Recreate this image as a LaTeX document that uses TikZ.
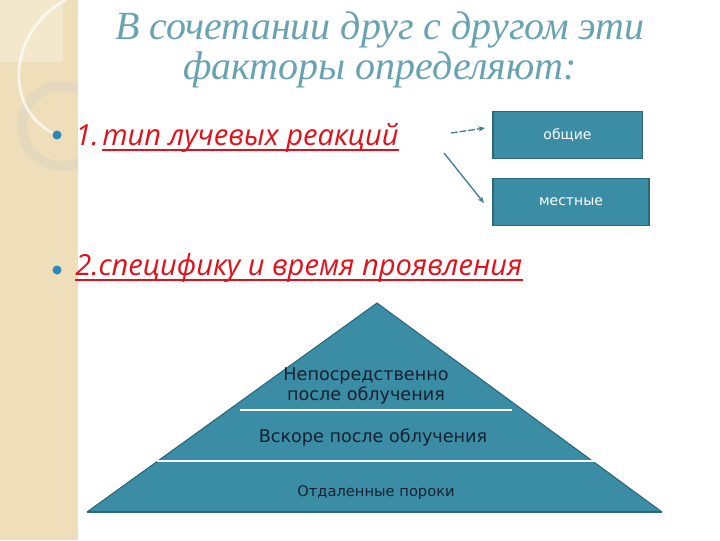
\documentclass[tikz,border=0pt]{standalone}
\usepackage{fontspec}
\setmainfont{Liberation Serif}
\newfontfamily\itemfont{Open Sans}
\newfontfamily\boxfont{DejaVu Sans}
\usetikzlibrary{arrows.meta}

\definecolor{strip}{RGB}{238,223,186}
\definecolor{stripLight}{RGB}{243,232,204}
\definecolor{ringCol}{RGB}{226,216,190}
\definecolor{titleCol}{RGB}{104,163,178}
\definecolor{itemRed}{RGB}{226,16,26}
\definecolor{dotBlue}{RGB}{46,134,190}
\definecolor{tealFill}{RGB}{58,141,165}
\definecolor{tealEdge}{RGB}{42,104,122}
\definecolor{arrowCol}{RGB}{62,126,148}
\definecolor{pyrText}{RGB}{22,32,48}

\begin{document}
\begin{tikzpicture}[x=0.75pt, y=-0.75pt,
  kindbox/.style={draw=tealEdge, line width=1pt, fill=tealFill,
    minimum width=112pt, minimum height=35pt, inner sep=0pt,
    text=white, font=\boxfont\fontsize{10.5}{12}\selectfont},
  pyrtext/.style={text=pyrText, align=center,
    font=\boxfont\fontsize{13.2}{16.5}\selectfont},
  itemtext/.style={text=itemRed, anchor=base west, inner sep=0pt,
    font=\itemfont\itshape\fontsize{21.8}{25}\selectfont},
  uline/.style={draw=itemRed, line width=1.5pt},
  arr/.style={draw=arrowCol, line width=1pt, -{Stealth[length=5pt,width=4pt]}}]

  \useasboundingbox (0,0) rectangle (720,540);

  %% Left strip and its ornament.
  \fill[strip] (0,0) rectangle (78,540);
  \fill[stripLight] (0,0) rectangle (63,62);
  \begin{scope}
    \clip (0,0) rectangle (78,540);
    \draw[ringCol, line width=7.5pt, opacity=0.8] (62,126) circle (40);
    \draw[white, opacity=0.7, line width=2pt]
      (66,0) .. controls (10,28) and (0,110) .. (57,135);
  \end{scope}

  %% Title.
  \node[text=titleCol, align=center,
    font=\itshape\fontsize{30}{29.5}\selectfont] (title) at (380,50)
    {В сочетании друг с другом эти\\факторы определяют:};

  %% Bullet items.
  \fill[dotBlue] (57,135) circle (4.5);
  \fill[dotBlue] (57,270) circle (4.5);
  \node[itemtext] (num1) at (75,145) {1.};
  \node[itemtext] (item1) at (102,145) {тип лучевых реакций};
  \node[itemtext] (item2) at (75,275) {2.специфику и время проявления};
  \draw[uline] ([yshift=-4pt]item1.base west) -- ([yshift=-4pt]item1.base east);
  \draw[uline] ([yshift=-4pt]item2.base west) -- ([yshift=-4pt]item2.base east);

  %% Kinds of reactions.
  \node[kindbox] (general) at (567.5,135) {общие};
  \node[kindbox, minimum width=117pt] (local) at (571,202) {местные};

  \coordinate (gFrom) at (451,133);
  \coordinate (gTo) at (485,128);
  \coordinate (lFrom) at (444,153);
  \coordinate (lTo) at (484,203);
  \draw[arr, dash pattern=on 5pt off 1.5pt] (gFrom) -- (gTo);
  \draw[arr] (lFrom) -- (lTo);

  %% Pyramid.
  \coordinate (apex) at (377,303);
  \coordinate (baseL) at (87,512);
  \coordinate (baseR) at (662,512);
  \fill[tealFill] (apex) -- (baseL) -- (baseR) -- cycle;
  \draw[tealEdge, line width=0.8pt] (baseL) -- (apex) -- (baseR);
  \draw[tealEdge, line width=2pt] (baseL) -- (baseR);
  \draw[white, line width=1pt] (240,410) -- (512,410);
  \draw[white, line width=1pt] (157,461) -- (597,461);

  \node[pyrtext] (now) at (366,386)
    {Непосредственно\\[-2pt]после облучения};
  \node[pyrtext] (soon) at (373,437) {Вскоре после облучения};
  \node[pyrtext, font=\boxfont\fontsize{11}{13}\selectfont]
    (late) at (376,493) {Отдаленные пороки};

\end{tikzpicture}
\end{document}
